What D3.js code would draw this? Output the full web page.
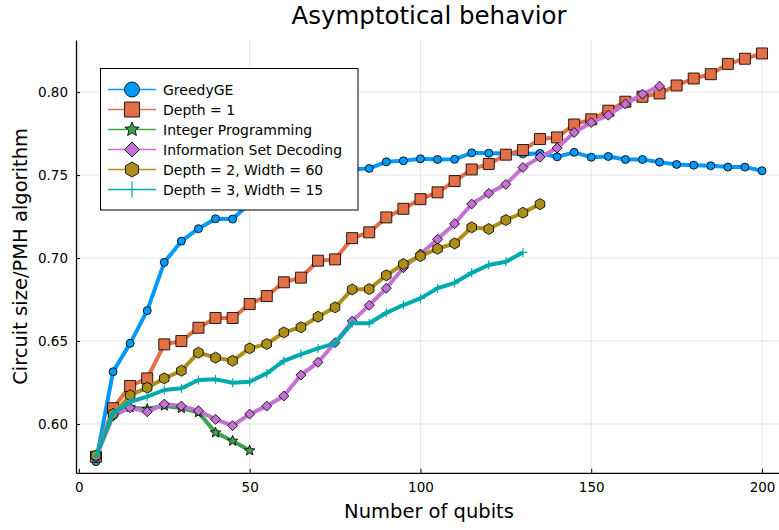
<!DOCTYPE html>
<html>
<head>
<meta charset="utf-8">
<script src="https://cdn.jsdelivr.net/npm/d3@7"></script>
<style>
    body { margin: 0; background: #fff; }
    svg text { font-family: "DejaVu Sans", sans-serif; }
</style>
</head>
<body>
<svg id="chart" width="779" height="530"></svg>
<script>
// values
var qubits = [5, 10, 15, 20, 25, 30, 35, 40, 45, 50, 55, 60, 65, 70, 75, 80, 85, 90, 95, 100,
    105, 110, 115, 120, 125, 130, 135, 140, 145, 150, 155, 160, 165, 170, 175, 180, 185, 190, 195, 200];

var greedyGE = [0.5773, 0.6315, 0.6486, 0.6683, 0.6974, 0.7102, 0.7177, 0.7237, 0.7235, 0.7330,
    0.7400, 0.7450, 0.7490, 0.7510, 0.7525, 0.7535, 0.7540, 0.7580, 0.7586, 0.7598,
    0.7594, 0.7595, 0.7634, 0.7632, 0.7630, 0.7628, 0.7630, 0.7610, 0.7637, 0.7608,
    0.7612, 0.7594, 0.7594, 0.7578, 0.7564, 0.7560, 0.7556, 0.7548, 0.7548, 0.7526];

var depth1 = [0.5803, 0.6095, 0.6229, 0.6275, 0.6480, 0.6500, 0.6580, 0.6639, 0.6639, 0.6723,
    0.6771, 0.6854, 0.6882, 0.6984, 0.6992, 0.7120, 0.7155, 0.7245, 0.7297, 0.7355,
    0.7396, 0.7464, 0.7534, 0.7567, 0.7623, 0.7651, 0.7717, 0.7727, 0.7805, 0.7836,
    0.7888, 0.7942, 0.7972, 0.7992, 0.8040, 0.8082, 0.8108, 0.8170, 0.8201, 0.8233];

var intProg = [0.5808, 0.6060, 0.6100, 0.6090, 0.6110, 0.6095, 0.6070, 0.5948, 0.5898, 0.5840];

var isd = [0.5800, 0.6048, 0.6098, 0.6074, 0.6120, 0.6108, 0.6080, 0.6028, 0.5990, 0.6060,
    0.6108, 0.6169, 0.6295, 0.6372, 0.6490, 0.6620, 0.6715, 0.6818, 0.6942, 0.7025,
    0.7113, 0.7207, 0.7326, 0.7390, 0.7444, 0.7546, 0.7608, 0.7663, 0.7757, 0.7817,
    0.7861, 0.7928, 0.7988, 0.8036];

var depth2w60 = [0.5810, 0.6060, 0.6173, 0.6219, 0.6275, 0.6321, 0.6430, 0.6400, 0.6381, 0.6456,
    0.6482, 0.6552, 0.6583, 0.6646, 0.6703, 0.6811, 0.6813, 0.6896, 0.6964, 0.7012,
    0.7056, 0.7088, 0.7185, 0.7175, 0.7229, 0.7273, 0.7325];

var depth3w15 = [0.5805, 0.6064, 0.6134, 0.6165, 0.6205, 0.6215, 0.6265, 0.6269, 0.6249, 0.6255,
    0.6305, 0.6380, 0.6420, 0.6456, 0.6486, 0.6607, 0.6607, 0.6670, 0.6717, 0.6757,
    0.6818, 0.6851, 0.6911, 0.6958, 0.6978, 0.7034];

var seriesNames = ["GreedyGE", "Depth = 1", "Integer Programming", "Information Set Decoding",
    "Depth = 2, Width = 60", "Depth = 3, Width = 15"];
var seriesColors = ["#009AFA", "#E36F47", "#3EA44E", "#C371D2", "#AC8E18", "#00A9AD"];
var seriesShapes = ["circle", "square", "star", "diamond", "hexagon", "plus"];
var seriesValues = [greedyGE, depth1, intProg, isd, depth2w60, depth3w15];

var xTicks = [0, 50, 100, 150, 200];
var yTicks = [0.60, 0.65, 0.70, 0.75, 0.80];

var svg = d3.select("#chart"),
    plotL = 76, plotR = 782, plotT = 40, plotB = 472.8,
    x = d3.scaleLinear().domain([-0.85, 205.85]).range([plotL, plotR]),
    y = d3.scaleLinear().domain([0.5706, 0.8314]).range([plotB, plotT]);

// grid
svg.append("g").selectAll("line").data(xTicks).enter().append("line")
    .attr("x1", function(d) { return x(d); }).attr("x2", function(d) { return x(d); })
    .attr("y1", plotT).attr("y2", plotB)
    .attr("stroke", "#000").attr("stroke-opacity", 0.1).attr("stroke-width", 1);
svg.append("g").selectAll("line").data(yTicks).enter().append("line")
    .attr("x1", plotL).attr("x2", plotR)
    .attr("y1", function(d) { return y(d); }).attr("y2", function(d) { return y(d); })
    .attr("stroke", "#000").attr("stroke-opacity", 0.1).attr("stroke-width", 1);

// axes (ticks point inward)
svg.append("g")
    .attr("transform", "translate(0," + plotB + ")")
    .call(d3.axisBottom(x).tickValues(xTicks).tickSizeInner(-4).tickSizeOuter(0).tickPadding(10)
        .tickFormat(d3.format("d")))
    .call(function(g) {
        g.select(".domain").attr("stroke-width", 1.3);
        g.selectAll("text").attr("font-size", 13.5).attr("fill", "#000")
            .attr("font-family", "DejaVu Sans");
    });
svg.append("g")
    .attr("transform", "translate(" + plotL + ",0)")
    .call(d3.axisLeft(y).tickValues(yTicks).tickSizeInner(-4).tickSizeOuter(0).tickPadding(8)
        .tickFormat(d3.format(".2f")))
    .call(function(g) {
        g.select(".domain").attr("stroke-width", 1.3);
        g.selectAll("text").attr("font-size", 13.5).attr("fill", "#000")
            .attr("font-family", "DejaVu Sans");
    });

// titles
svg.append("text").attr("x", (plotL + plotR) / 2).attr("y", 24)
    .attr("text-anchor", "middle").attr("font-size", 24.5).text("Asymptotical behavior");
svg.append("text").attr("x", (plotL + plotR) / 2).attr("y", 518)
    .attr("text-anchor", "middle").attr("font-size", 19.5).text("Number of qubits");
svg.append("text").attr("transform", "translate(27," + ((plotT + plotB) / 2) + ") rotate(-90)")
    .attr("text-anchor", "middle").attr("font-size", 19.5).text("Circuit size/PMH algorithm");

var markerPath = function(shape, s) {
    var p = d3.path(), i, a;
    if (shape == "circle") {
        p.arc(0, 0, s / 2, 0, 2 * Math.PI);
    } else if (shape == "square") {
        p.rect(-s / 2, -s / 2, s, s);
    } else if (shape == "diamond") {
        p.moveTo(0, -s / 2); p.lineTo(s / 2, 0); p.lineTo(0, s / 2); p.lineTo(-s / 2, 0);
    } else if (shape == "hexagon") {
        for (i = 0; i < 6; i++) {
            a = Math.PI / 3 * i - Math.PI / 2;
            if (i == 0) p.moveTo(s / 2 * Math.cos(a), s / 2 * Math.sin(a));
            else p.lineTo(s / 2 * Math.cos(a), s / 2 * Math.sin(a));
        }
    } else if (shape == "star") {
        for (i = 0; i < 10; i++) {
            a = Math.PI / 5 * i - Math.PI / 2;
            var r = (i % 2 == 0) ? s / 2 : s / 4.6;
            if (i == 0) p.moveTo(r * Math.cos(a), r * Math.sin(a));
            else p.lineTo(r * Math.cos(a), r * Math.sin(a));
        }
    } else {
        p.moveTo(-s / 2, 0); p.lineTo(s / 2, 0);
        p.moveTo(0, -s / 2); p.lineTo(0, s / 2);
        return p.toString();
    }
    p.closePath();
    return p.toString();
};

var markerSizes = [8, 11, 11, 10, 11, 9];

var drawMarker = function(sel, i, size) {
    var isPlus = seriesShapes[i] == "plus";
    sel.append("path")
        .attr("d", markerPath(seriesShapes[i], size))
        .attr("fill", isPlus ? "none" : seriesColors[i])
        .attr("stroke", isPlus ? seriesColors[i] : "#000")
        .attr("stroke-opacity", isPlus ? 1 : 0.85)
        .attr("stroke-width", isPlus ? 1.2 : 1);
};

var line = d3.line()
    .x(function(d) { return x(d[0]); })
    .y(function(d) { return y(d[1]); });

seriesValues.forEach(function(vals, i) {
    var pts = vals.map(function(v, j) { return [qubits[j], v]; });
    var g = svg.append("g");
    g.append("path").datum(pts)
        .attr("fill", "none")
        .attr("stroke", seriesColors[i])
        .attr("stroke-width", 4)
        .attr("stroke-linejoin", "round")
        .attr("d", line);
    pts.forEach(function(d) {
        var m = g.append("g").attr("transform", "translate(" + x(d[0]) + "," + y(d[1]) + ")");
        drawMarker(m, i, markerSizes[i]);
    });
});

// legend
var leg = svg.append("g");
leg.append("rect").attr("x", 100.5).attr("y", 68.5).attr("width", 257.5).attr("height", 141.5)
    .attr("fill", "#fff").attr("stroke", "#000").attr("stroke-width", 1);
seriesNames.forEach(function(name, i) {
    var ry = 89.5 + i * 20;
    leg.append("line").attr("x1", 108).attr("x2", 156).attr("y1", ry).attr("y2", ry)
        .attr("stroke", seriesColors[i]).attr("stroke-width", 1.5);
    var m = leg.append("g").attr("transform", "translate(132," + ry + ")");
    drawMarker(m, i, seriesShapes[i] == "plus" ? 16 : 15);
    leg.append("text").attr("x", 163).attr("y", ry + 5).attr("font-size", 14).text(name);
});
</script>
</body>
</html>
